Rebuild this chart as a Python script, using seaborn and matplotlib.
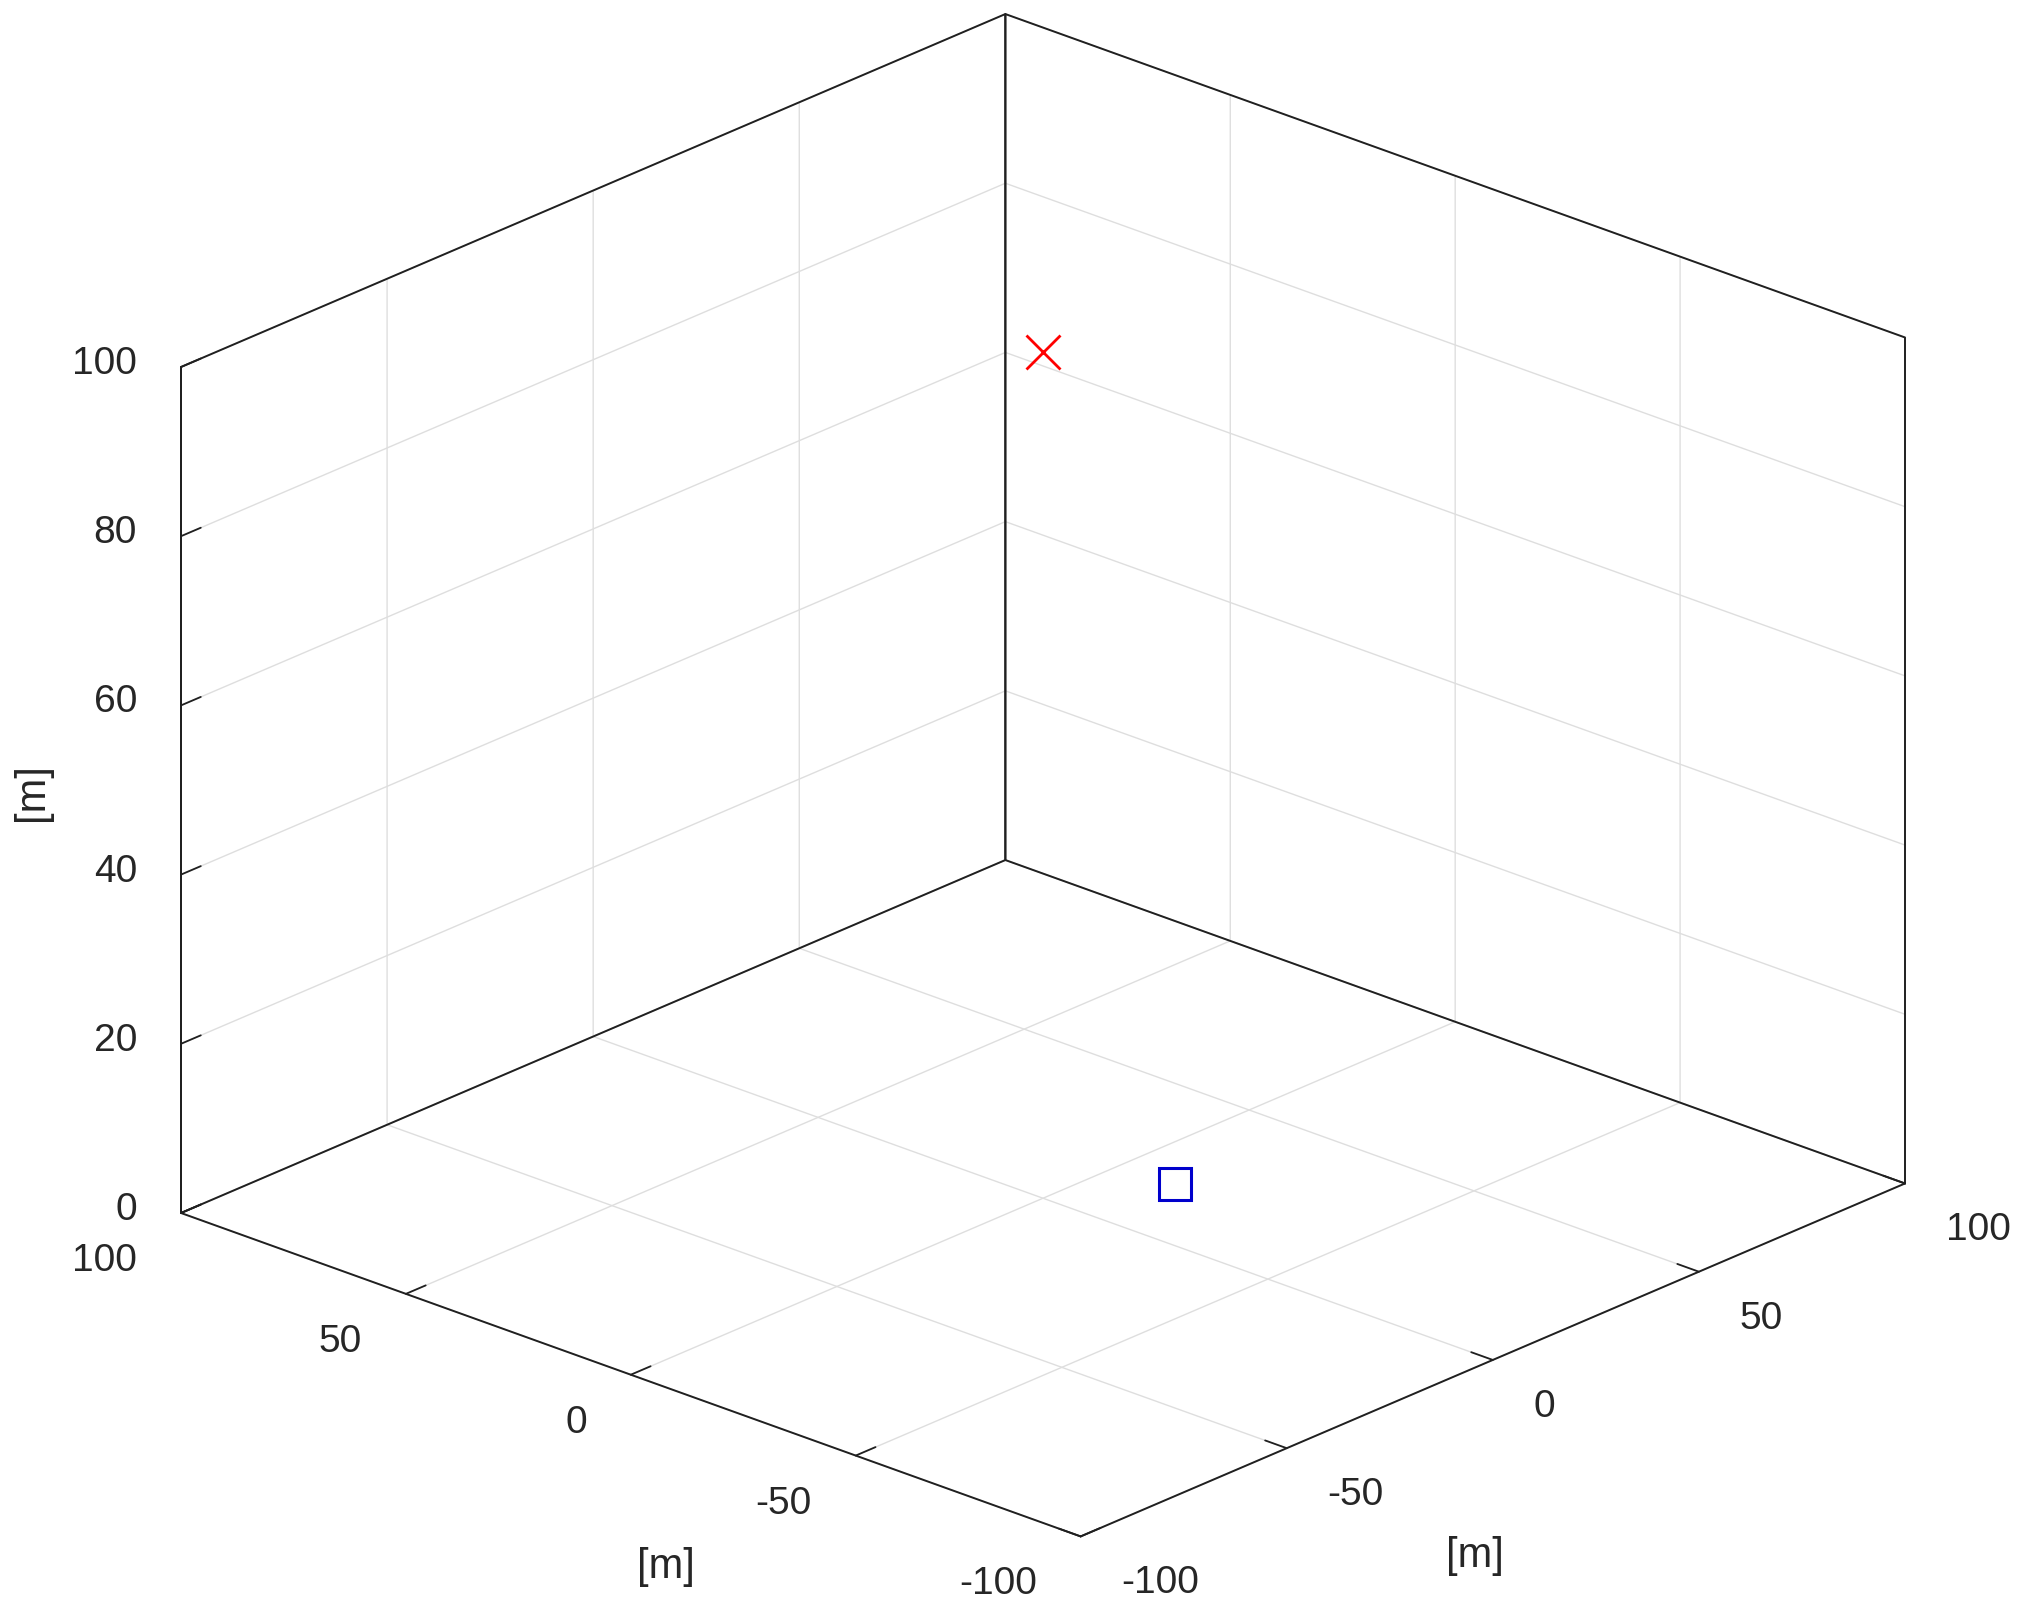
import numpy as np
import matplotlib
matplotlib.use("Agg")
import matplotlib.pyplot as plt
import seaborn as sns

# Positions in metres: source (red cross) and receiver (blue square).
source_x = [0]
source_y = [0]
source_z = [100]
receiver_x = [19]
receiver_y = [-12]
receiver_z = [0]

xy_ticks = [-100, -50, 0, 50, 100]
z_ticks = [0, 20, 40, 60, 80, 100]
axis_label = '[m]'

sns.set_theme(style="white")
plt.rcParams['font.family'] = ['Liberation Sans', 'DejaVu Sans']
edge = '#202020'
text_color = '#262626'
plt.rcParams.update({
    'grid.color': '#dedede',
    'grid.linewidth': 1.0,
    'axes.linewidth': 1.4,
    'axes.edgecolor': edge,
    'xtick.major.width': 1.3,
    'ytick.major.width': 1.3,
    'xtick.color': edge,
    'ytick.color': edge,
})

W, H = 2028, 1609
fig = plt.figure(figsize=(W / 100, H / 100), dpi=100)
ax = fig.add_axes([0, 0, 1, 1], projection='3d', proj_type='ortho')
ax.view_init(elev=23.1, azim=-137.5)

ax.plot(source_x, source_y, source_z, linestyle='none', marker='x',
        ms=24, mew=2.0, color='red')
ax.plot(receiver_x, receiver_y, receiver_z, linestyle='none', marker='s',
        ms=23, mew=2.2, mfc='none', mec=(0, 0, 0.8))

ax.set_xlim(-100, 100)
ax.set_ylim(-100, 100)
ax.set_zlim(0, 100)
ax.set_xticks(xy_ticks)
ax.set_yticks(xy_ticks)
ax.set_zticks(z_ticks)
# tick labels are placed by hand below, MATLAB style
ax.set_xticklabels([])
ax.set_yticklabels([])
ax.set_zticklabels([])
ax.grid(True)

for axis in (ax.xaxis, ax.yaxis, ax.zaxis):
    axis.set_pane_color((1, 1, 1, 1))
    axis._axinfo['tick']['inward_factor'] = 0.0
    axis._axinfo['tick']['outward_factor'] = 0.3

# outline of the two back walls, drawn over the grid
xl, yl, zl = ax.get_xlim(), ax.get_ylim(), ax.get_zlim()
ax.plot([xl[0], xl[0], xl[1], xl[1], xl[0]], [yl[1]] * 5,
        [zl[0], zl[1], zl[1], zl[0], zl[0]], color=edge, lw=1.4, clip_on=False)
ax.plot([xl[1]] * 5, [yl[0], yl[0], yl[1], yl[1], yl[0]],
        [zl[0], zl[1], zl[1], zl[0], zl[0]], color=edge, lw=1.4, clip_on=False)
ax.set_xlim(xl)
ax.set_ylim(yl)
ax.set_zlim(zl)


def to_px(x, y, z):
    v = ax.M @ np.array([x, y, z, 1.0])
    return ax.transData.transform((v[0] / v[3], v[1] / v[3]))


# fit the box onto the reference corners (display pixels, origin bottom-left)
target_left = np.array([181, H - 1213])
target_span_x = 1905 - 181
target_span_z = 846

zr = 0.757
ax.set_box_aspect((1, 1, zr))
fig.canvas.draw()
left, right, top = to_px(-100, 100, 0), to_px(100, -100, 0), to_px(-100, 100, 100)
zr = zr * (target_span_z / target_span_x) / ((top[1] - left[1]) / (right[0] - left[0]))
ax.set_box_aspect((1, 1, zr))
fig.canvas.draw()
left, right = to_px(-100, 100, 0), to_px(100, -100, 0)
ax.set_box_aspect((1, 1, zr), zoom=target_span_x / (right[0] - left[0]))
fig.canvas.draw()
shift = (target_left - to_px(-100, 100, 0)) / np.array([W, H])
pos = ax.get_position(original=True)
ax.set_position([pos.x0 + shift[0], pos.y0 + shift[1], pos.width, pos.height])
fig.canvas.draw()

# tick labels
for v in xy_ticks:
    px, py = to_px(v, yl[0], zl[0])
    fig.text((px + 41) / W, (py - 57) / H, f'{v:g}', ha='left', va='baseline',
             fontsize=28, color=text_color)
    px, py = to_px(xl[0], v, zl[0])
    fig.text((px - 44) / W, (py - 58) / H, f'{v:g}', ha='right', va='baseline',
             fontsize=28, color=text_color)
for v in z_ticks:
    px, py = to_px(xl[0], yl[1], v)
    fig.text((px - 44) / W, (py - 7) / H, f'{v:g}', ha='right', va='baseline',
             fontsize=28, color=text_color)

# axis labels
fig.text(666 / W, 1 - 1567 / H, axis_label, ha='center', va='center', fontsize=30, color=text_color)
fig.text(1475 / W, 1 - 1556 / H, axis_label, ha='center', va='center', fontsize=30, color=text_color)
fig.text(32 / W, 1 - 792 / H, axis_label, ha='center', va='center', rotation=90,
         fontsize=30, color=text_color)

fig.savefig('out.png', dpi=100)
